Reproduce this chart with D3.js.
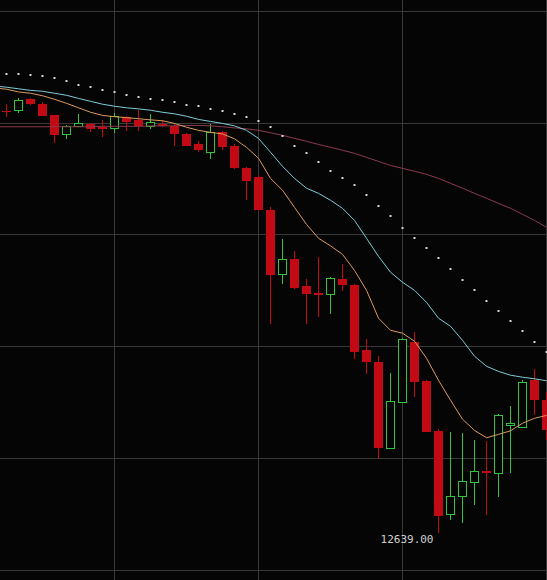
<!DOCTYPE html>
<html>
<head>
<meta charset="utf-8">
<script src="https://cdn.jsdelivr.net/npm/d3@7"></script>
<style>
  html, body { margin: 0; padding: 0; background: #050505; overflow: hidden; }
  svg { display: block; }
</style>
</head>
<body>
<div id="vis"></div>
<script>
//Dimensions of the drawing area
var width = 547,
    height = 580;

//Candle prices, one entry per bar (left to right)
var opens  = [14530, 14533, 14582, 14563, 14510, 14424, 14462, 14473, 14458, 14451, 14503, 14488, 14461, 14473, 14463, 14428, 14380, 14346, 14434, 14372, 14276, 14234, 14088, 13797, 13866, 13745, 13714, 13708, 13779, 13749, 13458, 13406, 13021, 13227, 13496, 13321, 13096, 12724, 12806, 12866, 12917, 12907, 13121, 13115, 13324, 13238];
var highs  = [14560, 14586, 14588, 14570, 14512, 14465, 14515, 14474, 14488, 14522, 14506, 14533, 14518, 14488, 14470, 14430, 14394, 14473, 14440, 14384, 14278, 14242, 14100, 13955, 13903, 13779, 13876, 13785, 13843, 13754, 13511, 13432, 13359, 13512, 13540, 13324, 13108, 13093, 13088, 13056, 13052, 13175, 13209, 13324, 13376, 13270];
var lows   = [14501, 14519, 14557, 14506, 14385, 14403, 14459, 14435, 14412, 14431, 14440, 14440, 14451, 14458, 14374, 14372, 14346, 14316, 14354, 14272, 14133, 14081, 13578, 13754, 13731, 13578, 13607, 13623, 13724, 13421, 13354, 12974, 13020, 13226, 13249, 13091, 12639, 12697, 12684, 12765, 12720, 12802, 12909, 13114, 13167, 13056];
var closes = [14526, 14577, 14561, 14509, 14421, 14458, 14473, 14451, 14451, 14507, 14480, 14461, 14476, 14462, 14428, 14373, 14357, 14434, 14368, 14276, 14216, 14085, 13797, 13864, 13737, 13710, 13710, 13779, 13749, 13451, 13406, 13021, 13230, 13508, 13317, 13093, 12717, 12805, 12872, 12917, 12907, 13167, 13133, 13315, 13238, 13100];

//Moving averages, first value belongs to the bar just before the first visible one
var maFast = [14633, 14627, 14615, 14609, 14598, 14582, 14564, 14544, 14524, 14510, 14504, 14500, 14495, 14490, 14486, 14474, 14457, 14443, 14434, 14427, 14405, 14367, 14318, 14228, 14175, 14098, 14022, 13960, 13926, 13888, 13816, 13727, 13602, 13548, 13535, 13499, 13423, 13324, 13235, 13150, 13100, 13067, 13082, 13098, 13132, 13154, 13167];
var maMid  = [14642, 14636, 14629, 14622, 14618, 14609, 14600, 14586, 14573, 14560, 14551, 14544, 14539, 14533, 14524, 14517, 14506, 14492, 14483, 14474, 14463, 14443, 14407, 14345, 14282, 14228, 14184, 14161, 14130, 14094, 14040, 13960, 13879, 13808, 13763, 13727, 13673, 13602, 13566, 13503, 13432, 13387, 13364, 13347, 13338, 13331, 13322];
var maSlow = [14459, 14459, 14459, 14459, 14459, 14459, 14459, 14459, 14459, 14461, 14461, 14461, 14461, 14463, 14463, 14463, 14465, 14465, 14463, 14459, 14454, 14450, 14443, 14432, 14421, 14407, 14394, 14380, 14367, 14354, 14340, 14322, 14304, 14286, 14273, 14260, 14246, 14228, 14206, 14184, 14161, 14139, 14116, 14094, 14067, 14040, 14009];

//Parabolic SAR dots, one per bar
var sar = [14697, 14694, 14689, 14685, 14677, 14662, 14645, 14637, 14622, 14613, 14601, 14592, 14583, 14577, 14568, 14556, 14551, 14538, 14528, 14515, 14501, 14483, 14458, 14418, 14372, 14343, 14301, 14261, 14231, 14198, 14152, 14103, 14058, 14005, 13960, 13915, 13870, 13821, 13772, 13727, 13678, 13633, 13588, 13544, 13494, 13450];

//Grid levels (price) and grid bars (index)
var gridLevels = [12475, 12975, 13475, 13975, 14475, 14975];
var gridBars = [9, 21, 33, 45];

var priceFormat = d3.format(".2f");

//Scales
var xScale = d3.scaleLinear().domain([0, 45]).range([6.5, 546.5]);
var yScale = d3.scaleLinear().domain([12475, 14975]).range([570, 11.5]);

var bodyWidth = 9;
var upColor = "#34c43a",
    downColor = "#c10a14";

var svgCanvas = d3.select("#vis")
                  .append("svg")
                  .attr("width", width)
                  .attr("height", height);

svgCanvas.append("rect")
         .attr("width", width)
         .attr("height", height)
         .attr("fill", "#050505");

//Grid
var grid = svgCanvas.append("g").attr("stroke", "#383838").attr("stroke-width", 1).attr("shape-rendering", "crispEdges");
grid.selectAll(".hline")
    .data(gridLevels)
    .enter().append("line")
    .attr("x1", 0).attr("x2", width)
    .attr("y1", function(d) { return Math.floor(yScale(d)) + 0.5; })
    .attr("y2", function(d) { return Math.floor(yScale(d)) + 0.5; });
grid.selectAll(".vline")
    .data(gridBars)
    .enter().append("line")
    .attr("y1", 0).attr("y2", height)
    .attr("x1", function(d) { return Math.floor(xScale(d)) + 0.5; })
    .attr("x2", function(d) { return Math.floor(xScale(d)) + 0.5; });

//Candles
var bars = opens.map(function(o, i) {
  return {i: i, open: o, high: highs[i], low: lows[i], close: closes[i]};
});

var candles = svgCanvas.append("g").attr("shape-rendering", "crispEdges")
                .selectAll(".candle")
                .data(bars)
                .enter().append("g")
                .attr("class", "candle");

candles.append("line")
       .attr("x1", function(d) { return Math.floor(xScale(d.i)) + 0.5; })
       .attr("x2", function(d) { return Math.floor(xScale(d.i)) + 0.5; })
       .attr("y1", function(d) { return yScale(d.high); })
       .attr("y2", function(d) { return yScale(d.low); })
       .attr("stroke", function(d) { return d.close >= d.open ? upColor : downColor; });

candles.append("rect")
       .attr("x", function(d) {
         var x = Math.floor(xScale(d.i)) + 0.5 - bodyWidth / 2;
         return d.close >= d.open ? x + 0.5 : x;
       })
       .attr("y", function(d) { return yScale(Math.max(d.open, d.close)); })
       .attr("width", function(d) { return d.close >= d.open ? bodyWidth - 1 : bodyWidth; })
       .attr("height", function(d) { return Math.max(1.5, Math.abs(yScale(d.open) - yScale(d.close))); })
       .attr("fill", function(d) { return d.close >= d.open ? "#050505" : downColor; })
       .attr("stroke", function(d) { return d.close >= d.open ? upColor : "none"; })
       .attr("stroke-width", 1);

//Moving average lines
var lineGen = d3.line()
                .x(function(d, i) { return xScale(i - 1); })
                .y(function(d) { return yScale(d); });

svgCanvas.append("path").datum(maSlow)
         .attr("d", lineGen).attr("fill", "none")
         .attr("stroke", "#8c3a4e").attr("stroke-width", 1);
svgCanvas.append("path").datum(maMid)
         .attr("d", lineGen).attr("fill", "none")
         .attr("stroke", "#80ccd6").attr("stroke-width", 1);
svgCanvas.append("path").datum(maFast)
         .attr("d", lineGen).attr("fill", "none")
         .attr("stroke", "#dc9a5e").attr("stroke-width", 1);

//SAR dots
svgCanvas.append("g")
         .selectAll(".sar")
         .data(sar)
         .enter().append("rect")
         .attr("x", function(d, i) { return Math.floor(xScale(i)) - 0.5; })
         .attr("y", function(d) { return Math.round(yScale(d)) - 1; })
         .attr("width", 2)
         .attr("height", 2)
         .attr("fill", "#d8d8d8");

//Label of the lowest low
var lowIdx = d3.minIndex(lows);
svgCanvas.append("text")
         .attr("x", xScale(lowIdx) - 5)
         .attr("y", yScale(lows[lowIdx]) + 10)
         .attr("text-anchor", "end")
         .attr("font-family", "DejaVu Sans Mono, monospace")
         .attr("font-size", 11)
         .attr("fill", "#cfcfcf")
         .text(priceFormat(lows[lowIdx]));
</script>
</body>
</html>
